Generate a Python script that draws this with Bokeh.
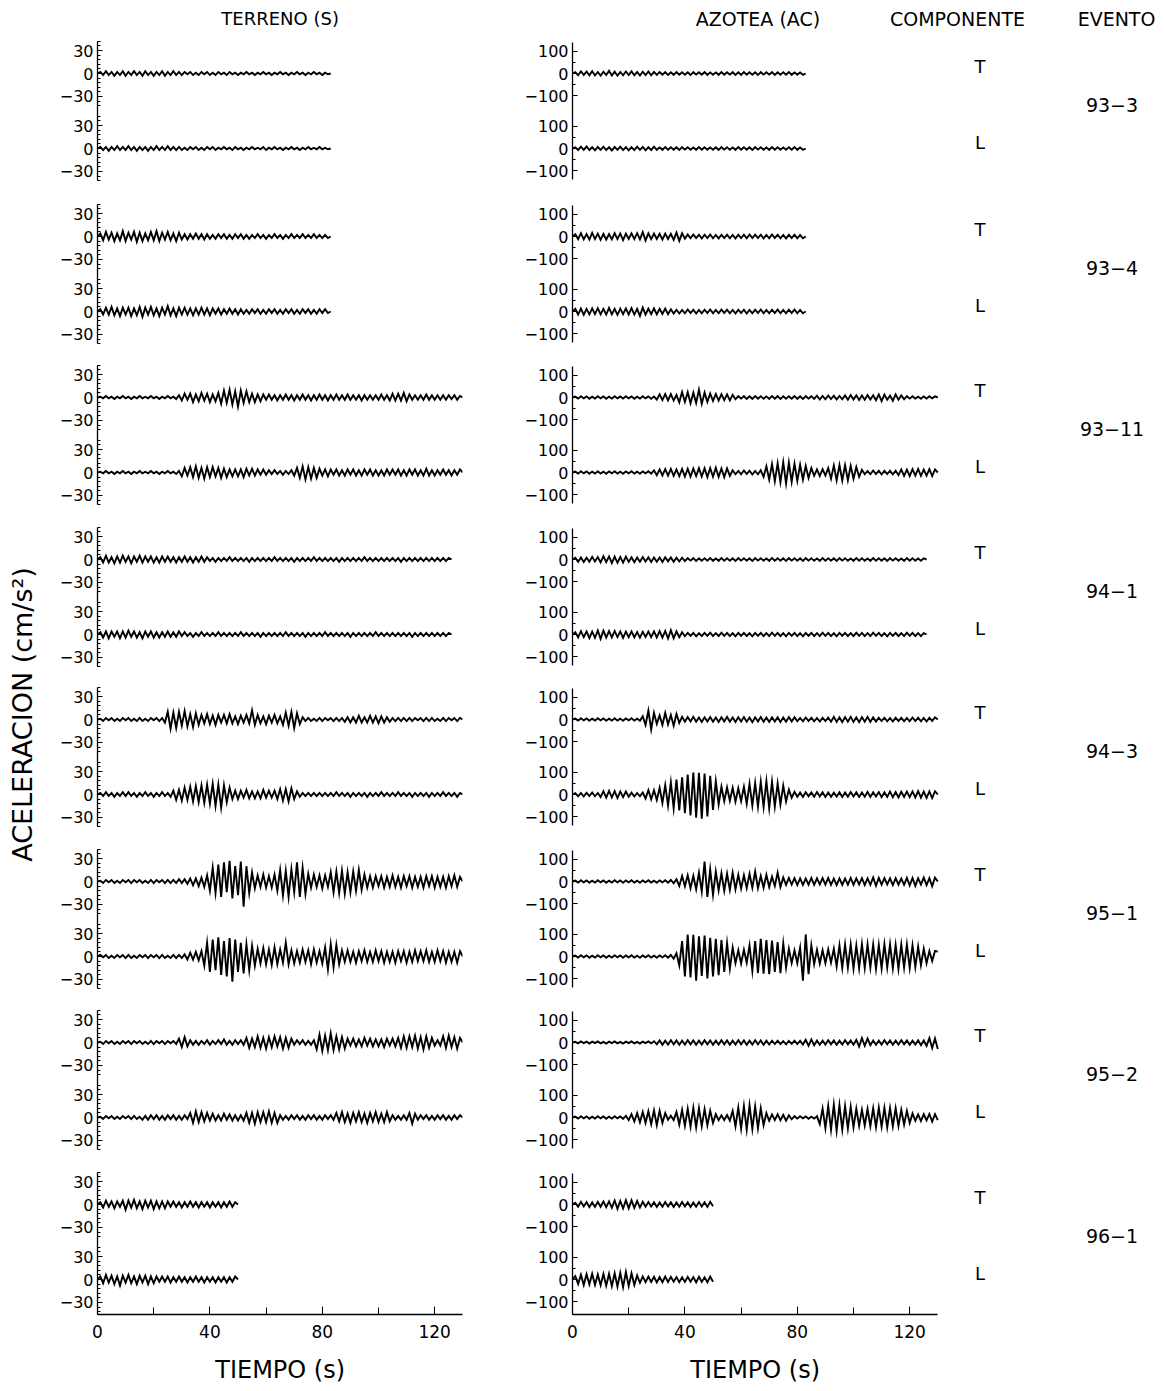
import numpy as np
from bokeh.plotting import figure
from bokeh.layouts import row, column
from bokeh.models import FixedTicker, Range1d
from bokeh.core.properties import value
from bokeh.embed import file_html
from bokeh.resources import INLINE

FONT = "DejaVu Sans"
EVENTS = ["93\u22123", "93\u22124", "93\u221211", "94\u22121", "94\u22123", "95\u22121", "95\u22122", "96\u22121"]
COMPONENTS = ["T", "L"]
DT = 1.0  # s between read samples
S_TICKS = [30, 0, -30]
AC_TICKS = [100, 0, -100]
X_TICKS = [0, 40, 80, 120]
X_MINOR = [20, 60, 100]

# ---------------- TERRENO (S), cm/s^2 ----------------
S_93_3_T = [0,2,-2,3,-2,2,-3,2,-2,3, -3,2,-2,3,-2,2,-3,3,-2,2, -3,2,-2,3,-3,2,-2,3,-2,2,
            -2,2,-1,2,-2,1,-2,2,-1,2, -2,1,-2,2,-1,1,-2,2,-1,1, -2,1,-1,2,-1,1,-2,1,-1,2,
            -1,1,-2,1,-1,2,-1,1,-2,1, -1,2,-1,1,-2,1,-1,2,-1,1, -2,1,-1,0]
S_93_3_L = [0,2,-2,2,-3,2,-2,3,-2,2, -2,3,-2,2,-3,2,-2,2,-3,2, -2,3,-2,2,-2,3,-2,2,-2,2,
            -2,1,-2,2,-1,2,-2,1,-2,2, -1,2,-2,1,-1,2,-1,1,-2,2, -1,1,-2,1,-1,2,-1,1,-1,2,
            -2,1,-1,2,-1,1,-2,1,-1,2, -1,1,-2,1,-1,2,-1,1,-1,2, -1,1,-1,0]
S_93_4_T = [0,4,-5,6,-4,5,-6,4,-5,7, -6,5,-4,6,-7,5,-6,4,-5,6, -5,7,-6,5,-4,6,-5,4,-6,5,
            -4,3,-4,3,-3,4,-3,3,-4,3, -3,2,-3,3,-2,3,-3,2,-3,3, -2,3,-3,2,-3,2,-2,3,-2,2,
            -3,2,-2,3,-2,2,-3,2,-2,3, -2,2,-2,3,-2,2,-2,3,-2,2, -2,2,-2,0]
S_93_4_L = [0,3,-4,5,-4,6,-5,4,-6,5, -4,5,-6,4,-5,6,-7,5,-4,6, -5,4,-6,5,-4,7,-5,4,-6,5,
            -4,5,-4,4,-5,4,-4,5,-4,4, -5,4,-3,4,-4,3,-3,4,-3,3, -4,3,-3,2,-3,3,-2,3,-3,2,
            -3,3,-2,3,-3,2,-3,3,-2,3, -3,2,-3,3,-2,3,-3,2,-3,3, -2,3,-2,0]
S_93_11_T = [0,1,-1,2,-1,1,-2,1,-1,2, -1,1,-2,1,-1,2,-1,1,-1,2, -1,1,-2,1,-1,2,-1,1,-2,3,
             -4,5,-3,5,-6,4,-5,6,-4,5, -6,4,-5,6,-8,9,-7,10,-9,8, -12,9,-7,8,-6,5,-6,4,-5,4,
             -3,4,-3,3,-4,3,-3,4,-3,3, -4,3,-3,4,-3,3,-4,3,-3,4, -3,3,-4,3,-3,4,-3,3,-3,4,
             -3,3,-3,3,-4,3,-3,3,-3,3, -3,4,-3,3,-4,5,-4,5,-4,6, -5,4,-3,3,-3,3,-3,4,-3,3,
             -3,3,-3,3,-3,3,-2,3,-3,2, 0]
S_93_11_L = [0,1,-1,2,-1,1,-2,1,-1,2, -1,1,-2,1,-1,2,-1,1,-1,2, -1,1,-2,1,-1,2,-1,1,-2,2,
             -5,6,-4,7,-6,8,-7,6,-8,7, -6,7,-5,6,-7,5,-6,4,-5,4, -5,4,-6,5,-4,5,-4,4,-3,4,
             -3,3,-2,3,-2,2,-3,2,-2,3, -4,6,-7,8,-9,7,-8,6,-7,5, -4,4,-5,4,-3,4,-4,3,-4,4,
             -3,4,-4,3,-4,4,-3,4,-4,3, -4,3,-4,4,-3,4,-3,4,-4,3, -4,4,-3,4,-4,3,-4,5,-4,3,
             -4,3,-3,4,-3,3,-4,3,-3,4, 0]
S_94_1_T = [0,3,-4,5,-4,3,-5,4,-4,5, -3,4,-5,4,-3,5,-4,4,-3,4, -4,3,-4,4,-3,4,-3,3,-4,3,
            -3,4,-3,3,-4,3,-3,4,-3,3, -2,2,-3,2,-2,2,-2,3,-2,2, -2,2,-2,2,-3,2,-2,2,-2,2,
            -2,2,-2,3,-2,2,-2,2,-2,2, -3,2,-2,2,-2,2,-2,3,-2,2, -2,2,-2,2,-2,2,-3,2,-2,2,
            -2,2,-2,2,-2,3,-2,2,-2,2, -2,2,-2,2,-2,2,-2,2,-3,2, -2,2,-2,2,-2,2,-2,2,-2,2,
            -2,2,-2,2,-2,2,0]
S_94_1_L = [0,3,-4,4,-5,4,-3,4,-5,4, -4,5,-3,4,-4,3,-5,4,-3,4, -4,3,-4,3,-3,4,-3,3,-3,4,
            -2,3,-2,2,-3,2,-2,3,-2,2, -2,2,-2,3,-2,2,-2,2,-2,2, -2,3,-2,2,-2,2,-2,2,-3,2,
            -2,2,-2,2,-2,2,-2,3,-2,2, -2,2,-2,2,-3,2,-2,2,-2,2, -2,3,-2,2,-2,2,-2,2,-2,2,
            -3,2,-2,2,-2,2,-2,2,-2,3, -2,2,-2,2,-2,2,-2,2,-2,2, -2,2,-3,2,-2,2,-2,2,-2,2,
            -2,2,-2,2,-2,2,0]
S_94_3_T = [0,1,-2,2,-1,2,-2,1,-2,2, -1,2,-2,1,-2,2,-2,1,-2,2, -1,2,-2,2,-4,10,-12,9,-11,10,
            -8,11,-9,7,-10,8,-7,6,-5,7, -6,5,-7,6,-4,6,-5,7,-5,4, -6,5,-4,6,-5,12,-7,6,-5,4,
            -6,5,-4,6,-5,4,-7,9,-8,10, -11,8,-6,3,-2,2,-2,1,-2,2, -2,2,-1,2,-2,2,-2,2,-3,3,
            -4,3,-4,5,-4,3,-4,5,-4,4, -5,4,-4,3,-3,2,-2,2,-2,2, -2,2,-2,2,-1,2,-2,2,-2,2,
            -2,1,-2,2,-2,2,-1,2,-2,2, 0]
S_94_3_L = [0,2,-2,3,-2,2,-3,2,-2,3, -2,3,-2,2,-3,2,-2,3,-2,2, -3,2,-2,3,-2,2,-3,5,-7,6,
            -8,9,-7,10,-9,11,-10,12,-11,13, -12,14,-15,13,-17,12,-10,9,-6,5, -6,5,-4,6,-5,4,-5,4,-5,6,
            -4,5,-4,5,-6,7,-8,7,-9,8, -6,4,-3,2,-2,2,-2,2,-2,2, -2,2,-2,2,-2,3,-2,2,-2,2,
            -3,2,-2,2,-2,2,-3,2,-2,2, -2,3,-2,2,-2,2,-2,3,-2,2, -2,2,-3,2,-2,2,-2,2,-3,2,
            -2,2,-2,3,-2,2,-2,2,-3,2, 0]
S_95_1_T = [0,1,-2,2,-1,2,-2,1,-2,2, -1,2,-2,2,-1,2,-2,1,-2,2, -2,2,-1,2,-2,2,-2,2,-2,3,
            -2,3,-3,4,-5,4,-6,5,-7,8, -12,18,-15,22,-20,25,-14,27,-22,20, -18,26,-33,20,-15,12,-9,8,-7,9,
            -8,7,-8,9,-12,15,-18,14,-20,16, -14,25,-20,18,-16,10,-8,9,-7,8, -9,8,-7,12,-14,13,-15,14,-16,12,
            -14,13,-12,15,-11,9,-8,7,-8,7, -6,7,-8,6,-7,8,-7,6,-8,7, -6,7,-8,6,-7,6,-8,7,-6,7,
            -8,6,-7,6,-8,7,-6,8,-7,6, 0]
S_95_1_L = [0,2,-1,2,-2,1,-2,2,-1,2, -2,2,-2,1,-2,2,-1,2,-2,2, -1,2,-2,2,-2,1,-2,2,-2,2,
            -2,3,-4,5,-4,6,-5,7,-12,18, -20,22,-18,25,-24,20,-26,24,-33,22, -20,18,-22,16,-18,14,-12,10,-9,11,
            -10,9,-11,12,-10,9,-8,18,-10,8, -9,7,-8,9,-7,8,-10,9,-8,7, -9,12,-17,16,-14,15,-10,8,-7,8,
            -7,6,-8,7,-6,8,-7,6,-7,8, -6,7,-8,6,-7,6,-8,7,-6,7, -8,6,-7,8,-6,7,-6,8,-7,6,
            -7,8,-6,7,-8,6,-7,6,-8,7, 0]
S_95_2_T = [0,1,-2,2,-1,2,-2,1,-2,2, -1,2,-2,2,-1,2,-2,1,-2,2, -2,2,-1,2,-2,2,-1,2,-2,5,
            -6,7,-5,3,-3,2,-3,2,-2,3, -3,2,-2,3,-2,4,-3,2,-3,3, -2,3,-3,6,-7,5,-6,8,-7,6,
            -8,7,-6,8,-5,7,-8,6,-7,5, -3,3,-2,3,-3,2,-3,3,-9,10, -11,9,-10,12,-10,8,-9,7,-8,5,
            -4,5,-5,4,-5,6,-4,5,-5,4, -5,4,-6,5,-4,5,-5,6,-7,8, -7,8,-6,9,-8,7,-9,8,-7,6,
            -4,3,-4,8,-7,9,-6,7,-8,6, 0]
S_95_2_L = [0,1,-2,2,-1,2,-2,1,-2,2, -1,2,-2,2,-2,1,-3,2,-3,3, -2,3,-3,2,-3,3,-2,3,-3,2,
            -3,3,-2,6,-7,8,-6,7,-5,6, -4,5,-4,3,-4,5,-3,4,-4,3, -4,3,-4,6,-7,6,-8,7,-6,7,
            -6,8,-7,6,-7,3,-3,2,-3,3, -2,3,-3,2,-3,3,-2,3,-3,2, -3,3,-2,3,-3,6,-5,7,-6,5,
            -7,6,-5,7,-6,5,-7,6,-5,7, -6,5,-6,7,-5,3,-3,2,-3,3, -3,6,-8,5,-3,3,-2,3,-3,2,
            -3,3,-2,3,-3,2,-3,3,-2,3, 0]
S_96_1_T = [0,3,-4,5,-3,4,-5,4,-3,5, -7,5,-4,6,-5,4,-6,5,-4,5, -6,4,-5,4,-5,4,-3,4,-3,3,
            -4,3,-3,4,-3,3,-4,3,-3,3, -4,3,-3,3,-4,3,-3,4,-3,3, 0]
S_96_1_L = [0,4,-5,6,-4,5,-6,4,-8,5, -4,6,-5,4,-6,5,-4,5,-6,4, -5,4,-3,4,-3,4,-4,3,-3,4,
            -3,3,-4,3,-3,4,-3,3,-4,3, -3,3,-4,3,-3,3,-4,3,-3,4, 0]

# ---------------- AZOTEA (AC), cm/s^2 ----------------
AC_93_3_T = [0,6,-8,10,-7,9,-8,10,-9,7, -10,8,-7,12,-9,8,-10,7,-8,9, -7,10,-8,7,-9,8,-7,9,-8,7,
             -6,7,-5,6,-7,5,-6,7,-5,6, -6,5,-7,6,-5,6,-5,7,-6,5, -6,5,-6,7,-5,6,-5,6,-7,5,
             -6,7,-5,6,-6,5,-7,6,-5,6, -5,6,-7,5,-6,6,-5,7,-6,5, -6,5,-6,0]
AC_93_3_L = [0,5,-7,8,-6,9,-7,6,-8,7, -6,8,-7,6,-9,7,-6,8,-7,6, -8,6,-7,8,-6,7,-8,6,-7,8,
             -6,5,-6,7,-5,6,-6,5,-7,6, -5,6,-6,5,-6,7,-5,6,-6,5, -6,5,-7,6,-5,6,-6,5,-6,7,
             -5,6,-6,5,-7,6,-5,6,-6,5, -6,7,-5,6,-6,5,-6,6,-5,7, -6,5,-6,0]
AC_93_4_T = [0,10,-12,15,-13,11,-14,16,-12,13, -15,12,-14,11,-13,15,-12,14,-16,13, -11,14,-12,15,-13,20,-18,14,-12,13,
             -11,12,-14,13,-11,12,-15,18,-20,14, -10,9,-8,9,-7,8,-9,8,-7,9, -8,7,-9,8,-7,8,-8,7,-9,8,
             -7,8,-8,9,-7,8,-7,8,-9,7, -8,9,-7,8,-8,7,-9,8,-7,8, -8,7,-8,0]
AC_93_4_L = [0,12,-14,13,-15,12,-13,14,-12,15, -13,12,-14,16,-13,12,-15,13,-12,14, -13,15,-14,12,-20,18,-14,13,-12,14,
             -13,12,-11,13,-12,10,-9,8,-9,7, -8,9,-7,8,-9,7,-8,8,-7,9, -8,7,-8,9,-7,8,-8,7,-9,8,
             -7,8,-9,7,-8,8,-7,9,-8,7, -8,8,-7,9,-8,7,-8,8,-7,9, -8,7,-8,0]
AC_93_11_T = [0,4,-5,6,-4,5,-6,4,-5,6, -4,5,-6,4,-5,6,-4,5,-5,6, -4,5,-6,4,-5,6,-4,5,-6,4,
              -10,14,-12,16,-13,15,-14,12,-22,25, -20,24,-26,22,-25,35,-28,22,-20,18, -15,16,-14,15,-12,14,-13,12,-8,6,
              -5,6,-7,5,-6,7,-5,6,-6,5, -6,7,-5,6,-7,5,-6,6,-5,7, -6,5,-7,6,-5,6,-6,8,-9,7,
              -8,9,-7,8,-9,7,-8,9,-10,11, -9,10,-11,9,-10,11,-9,10,-12,14, -16,13,-10,9,-15,14,-10,9,-8,6,
              -5,6,-5,4,-6,5,-5,6,-4,5, 0]
AC_93_11_L = [0,4,-5,6,-4,5,-6,4,-5,6, -5,4,-6,5,-4,6,-5,4,-6,5, -4,6,-5,4,-6,5,-4,6,-5,10,
              -12,14,-13,15,-14,16,-15,14,-17,16, -18,17,-19,18,-16,20,-18,19,-21,20, -19,22,-20,18,-21,19,-15,10,-8,7,
              -8,9,-7,8,-9,7,-8,10,-20,28, -32,38,-40,42,-44,46,-50,45,-42,40, -38,35,-32,30,-25,20,-15,14,-16,15,
              -14,20,-28,32,-35,34,-36,33,-35,30, -28,25,-20,12,-8,7,-8,9,-7,8, -9,8,-7,8,-9,8,-12,14,-15,13,
              -16,15,-14,16,-15,13,-14,15,-16,14, 0]
AC_94_1_T = [0,8,-10,9,-11,8,-10,12,-9,11, -13,15,-12,14,-16,13,-15,12,-14,13, -11,10,-12,9,-10,11,-9,10,-11,9,
             -10,9,-11,10,-8,9,-10,8,-9,8, -7,6,-5,6,-7,5,-6,6,-5,7, -6,5,-6,7,-5,6,-6,5,-7,6,
             -5,6,-6,5,-7,6,-5,6,-6,5, -6,7,-5,6,-6,5,-7,6,-5,6, -6,5,-7,6,-5,6,-6,5,-6,7,
             -5,6,-6,5,-7,6,-5,6,-6,5, -6,7,-5,6,-6,5,-6,7,-5,6, -6,5,-7,6,-5,6,-6,5,-6,7,
             -5,6,-6,5,-6,5,0]
AC_94_1_L = [0,10,-13,15,-12,14,-16,13,-15,18, -20,17,-14,15,-13,16,-12,14,-15,13, -12,14,-13,11,-14,12,-11,13,-12,14,
             -13,15,-14,16,-18,20,-17,14,-12,10, -8,7,-6,7,-8,6,-7,7,-6,8, -7,6,-7,8,-6,7,-7,6,-8,7,
             -6,7,-7,6,-8,7,-6,7,-7,6, -7,8,-6,7,-7,6,-8,7,-6,7, -7,6,-8,7,-6,7,-7,6,-7,8,
             -6,7,-7,6,-8,7,-6,7,-7,6, -7,8,-6,7,-7,6,-7,8,-6,7, -7,6,-8,7,-6,7,-7,6,-7,8,
             -6,7,-7,6,-7,6,0]
AC_94_3_T = [0,4,-5,6,-4,5,-6,4,-5,6, -4,5,-6,4,-5,6,-5,4,-6,5, -4,6,-5,4,-6,15,-25,40,-45,30,
             -20,18,-25,30,-22,20,-28,25,-15,12, -10,11,-9,12,-10,9,-11,10,-9,11, -10,9,-11,10,-9,12,-10,9,-11,10,
             -9,11,-10,9,-12,10,-9,11,-10,9, -11,10,-9,10,-11,9,-10,11,-9,10, -8,7,-8,9,-7,8,-8,7,-9,8,
             -7,9,-10,12,-11,10,-12,11,-10,12, -11,10,-12,11,-10,12,-11,10,-9,8, -7,8,-8,7,-9,8,-7,8,-8,7,
             -8,9,-7,8,-8,7,-9,8,-7,10, 0]
AC_94_3_L = [0,6,-8,7,-9,8,-7,9,-8,7, -12,15,-14,16,-13,15,-16,14,-12,13, -10,8,-9,7,-8,9,-18,20,-22,19,
             -25,30,-38,42,-50,55,-62,68,-72,78, -85,90,-95,100,-105,98,-110,95,-100,85, -70,60,-45,35,-30,32,-28,30,-32,28,
             -30,35,-42,48,-50,52,-55,58,-56,60, -62,58,-55,50,-45,40,-32,22,-15,12, -10,9,-11,10,-8,9,-10,11,-9,10,
             -11,9,-10,8,-9,10,-11,9,-10,11, -9,10,-11,9,-10,12,-11,10,-9,11, -12,10,-11,13,-12,11,-13,12,-11,13,
             -12,14,-13,15,-14,13,-15,14,-16,15, 0]
AC_95_1_T = [0,4,-5,6,-4,5,-6,4,-5,6, -4,5,-6,4,-5,6,-4,5,-6,5, -4,6,-5,4,-6,5,-4,6,-5,4,
             -6,5,-4,6,-5,7,-8,10,-20,25, -22,28,-30,25,-35,40,-45,90,-70,55, -60,45,-40,38,-42,35,-38,40,-35,30,
             -32,28,-30,35,-28,45,-30,25,-28,30, -25,22,-20,40,-25,18,-15,16,-14,15, -16,14,-15,13,-14,16,-15,14,-13,15,
             -14,16,-15,13,-16,14,-15,13,-14,16, -15,14,-13,15,-16,14,-15,18,-20,16, -14,15,-13,14,-16,15,-14,13,-15,16,
             -18,16,-20,15,-14,18,-16,15,-22,18, 0]
AC_95_1_L = [0,4,-5,6,-4,5,-6,4,-5,6, -4,5,-6,4,-5,6,-4,5,-6,5, -4,6,-5,4,-6,5,-4,6,-5,4,
             -6,5,-4,6,-5,7,-10,15,-40,70, -90,100,-95,98,-110,92,-88,95,-100,85, -90,80,-85,75,-70,60,-55,40,-30,28,
             -32,30,-28,50,-65,70,-75,80,-78,75, -80,72,-70,65,-75,60,-50,35,-30,28, -30,40,-110,100,-80,50,-35,30,-32,28,
             -30,32,-28,35,-45,50,-52,55,-50,54, -55,50,-53,56,-52,55,-50,54,-56,52, -54,56,-50,55,-53,52,-56,54,-50,55,
             -52,50,-48,45,-40,35,-30,25,-20,25, 22]
AC_95_2_T = [0,3,-4,5,-3,4,-5,4,-3,5, -4,3,-5,4,-3,5,-4,3,-5,4, -3,5,-4,3,-5,4,-3,5,-4,6,
             -8,9,-10,8,-9,10,-8,9,-10,8, -9,10,-8,9,-10,8,-9,10,-8,9, -10,8,-9,10,-8,9,-10,8,-9,10,
             -8,9,-10,8,-9,10,-8,9,-10,8, -9,8,-7,8,-7,6,-8,7,-6,8, -7,8,-9,12,-15,14,-12,9,-10,8,
             -9,10,-8,9,-10,8,-9,10,-8,9, -10,12,-18,20,-15,18,-12,9,-10,8, -9,10,-8,9,-10,8,-9,10,-8,9,
             -10,8,-9,10,-12,9,-15,20,-25,18, -30]
AC_95_2_L = [0,4,-5,6,-4,5,-6,4,-5,6, -4,5,-6,4,-5,6,-4,5,-6,8, -12,15,-18,20,-22,25,-24,28,-30,32,
             -35,30,-25,20,-10,8,-12,25,-32,35, -38,40,-42,44,-45,42,-40,38,-35,30, -25,15,-12,10,-12,11,-14,30,-40,45,
             -50,52,-55,55,-52,50,-48,42,-35,20, -15,14,-12,15,-13,12,-14,10,-8,6, -5,6,-4,5,-6,4,-5,6,-30,40,
             -48,52,-55,58,-60,56,-55,52,-50,48, -45,40,-38,35,-36,38,-40,42,-44,45, -42,44,-45,43,-40,42,-38,35,-32,30,
             -25,18,-15,14,-16,15,-13,16,-18,15, -12]
AC_96_1_T = [0,8,-10,12,-9,11,-12,10,-11,12, -10,13,-12,14,-15,18,-20,16,-18,20, -17,19,-15,16,-14,12,-10,11,-9,10,
             -11,9,-10,11,-9,10,-11,9,-10,11, -9,10,-11,9,-10,11,-9,10,-11,12, -8]
AC_96_1_L = [0,15,-20,22,-25,24,-22,26,-25,23, -26,25,-28,26,-30,28,-32,30,-35,34, -30,28,-25,18,-15,14,-12,13,-11,12,
             -13,11,-12,13,-11,12,-10,11,-12,10, -11,12,-10,11,-13,12,-11,10,-12,13, -10]

GROUND = [(S_93_3_T, S_93_3_L), (S_93_4_T, S_93_4_L), (S_93_11_T, S_93_11_L), (S_94_1_T, S_94_1_L),
          (S_94_3_T, S_94_3_L), (S_95_1_T, S_95_1_L), (S_95_2_T, S_95_2_L), (S_96_1_T, S_96_1_L)]
ROOF = [(AC_93_3_T, AC_93_3_L), (AC_93_4_T, AC_93_4_L), (AC_93_11_T, AC_93_11_L), (AC_94_1_T, AC_94_1_L),
        (AC_94_3_T, AC_94_3_L), (AC_95_1_T, AC_95_1_L), (AC_95_2_T, AC_95_2_L), (AC_96_1_T, AC_96_1_L)]

# ---------------- layout (page pixels) ----------------
PX_PER_S = 2.81
HALF = 37.5                      # px between event centre and each trace zero
D_S, D_AC = 49, 170              # trace offsets in data units
S_S, S_AC = HALF / D_S, HALF / D_AC   # px per cm/s^2
T0 = [73, 236, 397, 559, 719, 881, 1042, 1204]
BOUNDS = [0, 192, 354, 516, 677, 838, 999, 1161, 1314]
BOTTOM_EXTRA = 32                # room for the x tick labels
FOOT_H = 43                      # strip holding the "TIEMPO (s)" titles
MAIN_H = BOUNDS[-1] + BOTTOM_EXTRA - BOUNDS[0]
LAB_W = 38
FW_S, FW_AC = 365, 584
MBL_S, MBR_S, MBL_AC = 59, 20, 90
PAGE_W = LAB_W + MBL_S + FW_S + MBR_S + MBL_AC + FW_AC


def style_common(p):
    p.grid.visible = False
    p.outline_line_color = None
    p.background_fill_color = "white"
    p.border_fill_color = "white"


def make_panel(k, side):
    top, bot = BOUNDS[k], BOUNDS[k + 1]
    last = (k == len(EVENTS) - 1)
    M = T0[k] + HALF
    if side == "S":
        s, D, ticks, fw, mbl, mbr = S_S, D_S, S_TICKS, FW_S, MBL_S, MBR_S
        minors = [D + m for m in range(-42, 43, 6)] + [-D + m for m in range(-42, 43, 6)]
        pad = 42
        data = GROUND[k]
    else:
        s, D, ticks, fw, mbl, mbr = S_AC, D_AC, AC_TICKS, FW_AC, MBL_AC, 0
        minors = [D + 50, D - 50, -D + 50, -D - 50]
        pad = 140
        data = ROOF[k]
    y0 = (M - bot) / s
    y1 = (M - top) / s
    fh = bot - top
    p = figure(width=mbl + fw + mbr, height=fh + (BOTTOM_EXTRA if last else 0),
               x_range=Range1d(0, fw / PX_PER_S), y_range=Range1d(y0, y1),
               min_border_left=mbl, min_border_right=mbr, min_border_top=0,
               min_border_bottom=(BOTTOM_EXTRA if last else 0),
               x_axis_location=("below" if last else None),
               output_backend="svg", toolbar_location=None)
    style_common(p)

    # traces
    for vals, off in zip(data, (D, -D)):
        v = np.asarray(vals, dtype=float)
        t = np.arange(len(v)) * DT
        p.line(t, v + off, line_color="black", line_width=1.9, line_join="miter")

    yax = p.yaxis[0]
    tk = [D + ticks[0], D, D + ticks[2], -D + ticks[0], -D, -D + ticks[2]]
    yax.ticker = FixedTicker(ticks=tk, minor_ticks=minors)
    lab = [str(ticks[0]), "0", "\u2212" + str(abs(ticks[2]))] * 2
    yax.major_label_overrides = {int(a): b for a, b in zip(tk, lab)}
    yax.bounds = (y0 if last else -D - pad, D + pad)
    yax.major_tick_in = 5
    yax.major_tick_out = 0
    yax.minor_tick_in = 3
    yax.minor_tick_out = 0
    yax.axis_line_width = 1.3
    yax.major_tick_line_width = 1.2
    yax.major_label_text_font = FONT
    yax.major_label_text_font_size = "16px"
    yax.major_label_text_color = "black"
    yax.major_label_standoff = 4

    if last:
        xax = p.xaxis[0]
        xax.ticker = FixedTicker(ticks=X_TICKS, minor_ticks=X_MINOR)
        xax.bounds = (0, 130)
        xax.major_tick_in = 8
        xax.major_tick_out = 0
        xax.minor_tick_in = 7
        xax.minor_tick_out = 0
        xax.axis_line_width = 1.3
        xax.major_label_text_font = FONT
        xax.major_label_text_font_size = "17px"
        xax.major_label_text_color = "black"
        xax.major_label_standoff = 10

    tf = dict(text_font=value(FONT), text_color="black", text_align="center", text_baseline="middle")
    if k == 0:
        yh = (M - 18) / s
        if side == "S":
            p.text(x=[65], y=[yh], text=["TERRENO (S)"], text_font_size="18px", **tf)
        else:
            p.text(x=[66, 137, 193.6], y=[yh] * 3, text=["AZOTEA (AC)", "COMPONENTE", "EVENTO"],
                   text_font_size="19px", **tf)
    if side == "AC":
        p.text(x=[145, 145], y=[D + 7 / s, -D + 6 / s], text=COMPONENTS, text_font_size="18px", **tf)
        p.text(x=[192], y=[6 / s], text=[EVENTS[k]], text_font_size="19px", **tf)
    return p


left = column([make_panel(k, "S") for k in range(len(EVENTS))], spacing=0)
right = column([make_panel(k, "AC") for k in range(len(EVENTS))], spacing=0)

labfig = figure(width=LAB_W, height=MAIN_H, x_range=Range1d(0, LAB_W), y_range=Range1d(0, MAIN_H),
                min_border=0, x_axis_location=None, y_axis_location=None,
                output_backend="svg", toolbar_location=None)
style_common(labfig)
labfig.text(x=[22], y=[MAIN_H + BOUNDS[0] - 714], text=["ACELERACION (cm/s\u00b2)"], angle=np.pi / 2,
            text_font=value(FONT), text_font_size="27px", text_color="black",
            text_align="center", text_baseline="middle")

# footer strip: the "TIEMPO (s)" titles under each panel's centre (65 s)
foot = figure(width=PAGE_W, height=FOOT_H, x_range=Range1d(0, PAGE_W), y_range=Range1d(0, FOOT_H),
              min_border=0, x_axis_location=None, y_axis_location=None,
              output_backend="svg", toolbar_location=None)
style_common(foot)
x_left_c = LAB_W + MBL_S + 65 * PX_PER_S
x_right_c = LAB_W + MBL_S + FW_S + MBR_S + MBL_AC + 65 * PX_PER_S
foot.text(x=[x_left_c, x_right_c], y=[FOOT_H - 23] * 2, text=["TIEMPO (s)", "TIEMPO (s)"],
          text_font=value(FONT), text_font_size="24px", text_color="black",
          text_align="center", text_baseline="middle")

layout = column([row([labfig, left, right], spacing=0), foot], spacing=0)
open("out.html", "w").write(file_html(layout, INLINE))
